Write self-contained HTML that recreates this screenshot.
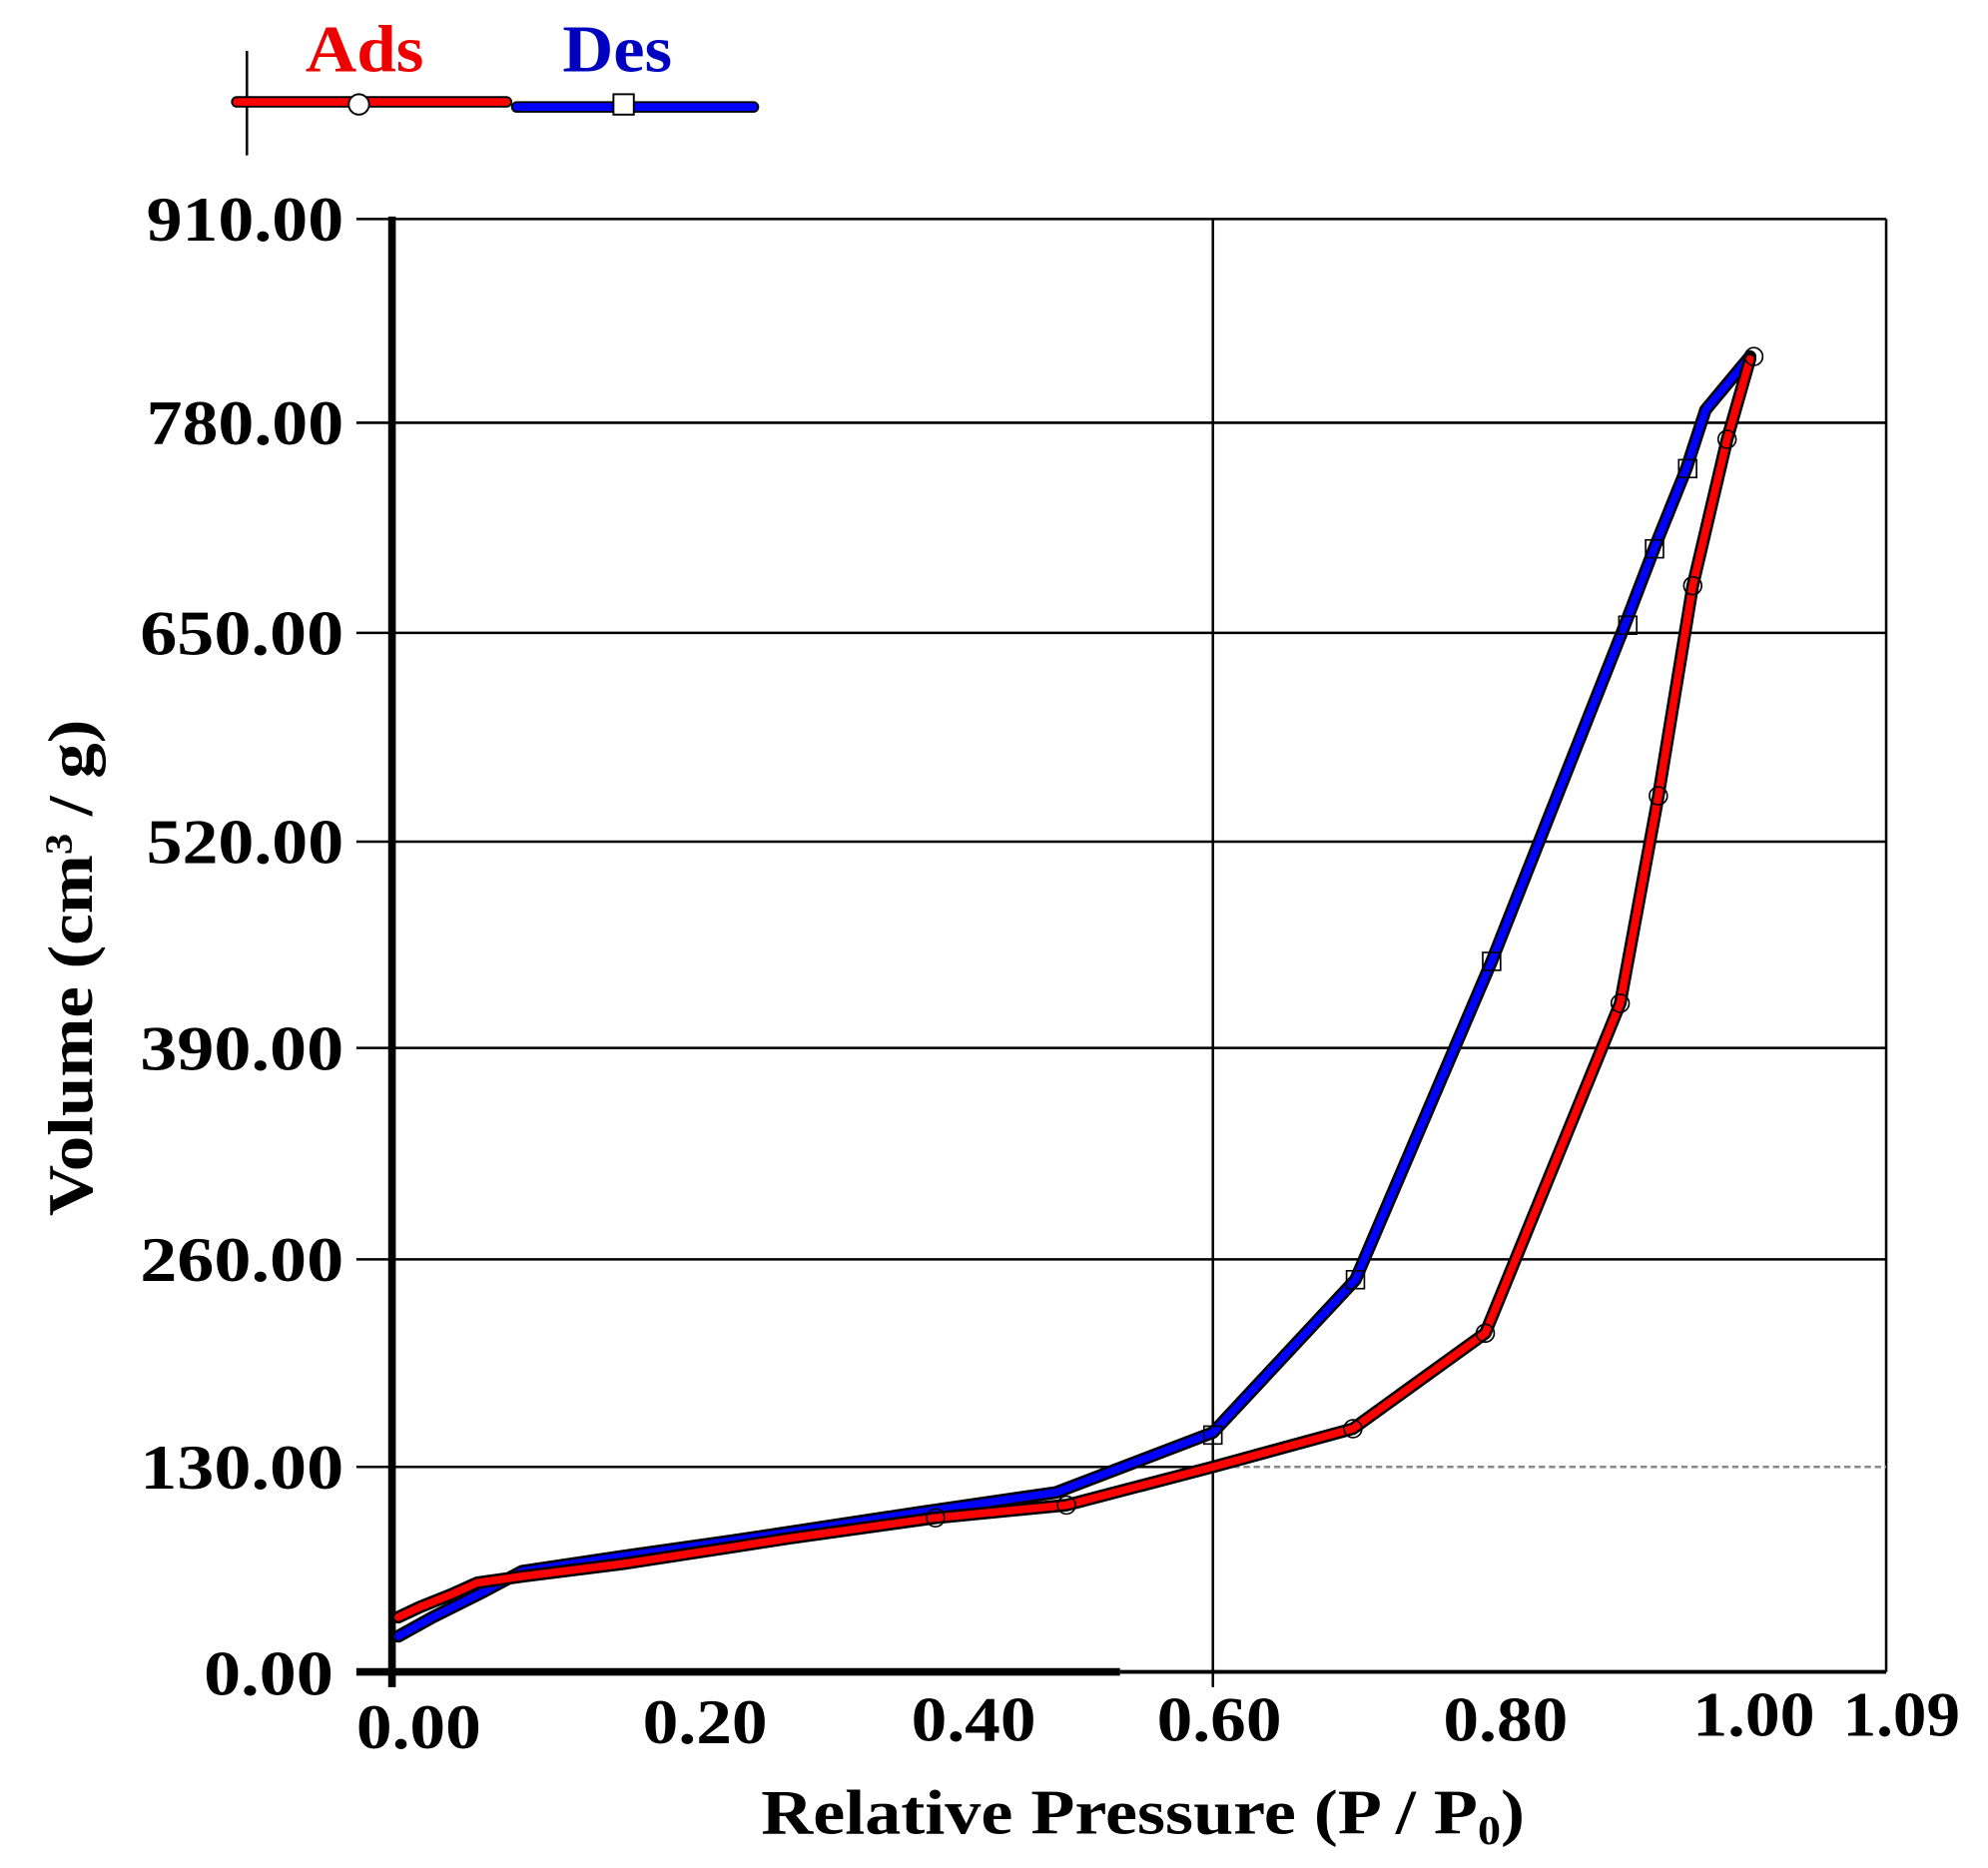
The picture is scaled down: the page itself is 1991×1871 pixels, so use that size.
<!DOCTYPE html>
<html><head><meta charset="utf-8"><style>
html,body{margin:0;padding:0;background:#fff;}
svg{display:block;}
text{font-family:"Liberation Serif",serif;font-weight:bold;fill:#000;}
</style></head><body>
<svg width="1991" height="1871" viewBox="0 0 1562 1467" preserveAspectRatio="none" xmlns="http://www.w3.org/2000/svg">
<!-- legend -->
<line x1="194" y1="40" x2="194" y2="122" stroke="#000" stroke-width="2"/>
<line x1="186" y1="80" x2="398" y2="80" stroke="#000" stroke-width="9" stroke-linecap="round"/>
<line x1="186" y1="80" x2="398" y2="80" stroke="#f00" stroke-width="6" stroke-linecap="round"/>
<circle cx="282" cy="82" r="8" fill="#fff" stroke="#000" stroke-width="1.5"/>
<line x1="406" y1="84" x2="592" y2="84" stroke="#000" stroke-width="9" stroke-linecap="round"/>
<line x1="406" y1="84" x2="592" y2="84" stroke="#00f" stroke-width="6" stroke-linecap="round"/>
<rect x="482" y="74" width="16" height="16" fill="#fff" stroke="#000" stroke-width="1.5"/>
<text x="240" y="56" font-size="52" textLength="93" lengthAdjust="spacingAndGlyphs" style="fill:#e00">Ads</text>
<text x="442" y="56" font-size="52" textLength="86" lengthAdjust="spacingAndGlyphs" style="fill:#0000c0">Des</text>
<!-- grid -->
<g stroke="#000" stroke-width="2">
<line x1="280" y1="172" x2="1482" y2="172"/>
<line x1="280" y1="332" x2="1482" y2="332"/>
<line x1="280" y1="497" x2="1482" y2="497"/>
<line x1="280" y1="661" x2="1482" y2="661"/>
<line x1="280" y1="823" x2="1482" y2="823"/>
<line x1="280" y1="989" x2="1482" y2="989"/>
<line x1="280" y1="1152" x2="953" y2="1152"/>
<line x1="1482" y1="172" x2="1482" y2="1313"/>
<line x1="953" y1="172" x2="953" y2="1325"/>
<line x1="880" y1="1313" x2="1482" y2="1313" stroke-width="3"/>
</g>
<line x1="953" y1="1152" x2="1482" y2="1152" stroke="#888" stroke-width="2" stroke-dasharray="5,3"/>
<line x1="280" y1="1313" x2="880" y2="1313" stroke="#000" stroke-width="6"/>
<line x1="308" y1="170" x2="308" y2="1325" stroke="#000" stroke-width="6"/>
<!-- y labels -->
<g font-size="50" lengthAdjust="spacingAndGlyphs">
<text x="115" y="189" textLength="155" lengthAdjust="spacingAndGlyphs">910.00</text>
<text x="115" y="349" textLength="155" lengthAdjust="spacingAndGlyphs">780.00</text>
<text x="110" y="514" textLength="160" lengthAdjust="spacingAndGlyphs">650.00</text>
<text x="115" y="678" textLength="155" lengthAdjust="spacingAndGlyphs">520.00</text>
<text x="110" y="840" textLength="160" lengthAdjust="spacingAndGlyphs">390.00</text>
<text x="110" y="1006" textLength="160" lengthAdjust="spacingAndGlyphs">260.00</text>
<text x="110" y="1169" textLength="160" lengthAdjust="spacingAndGlyphs">130.00</text>
<text x="160" y="1331" textLength="102" lengthAdjust="spacingAndGlyphs">0.00</text>
</g>
<g font-size="50">
<text x="280" y="1373" textLength="98" lengthAdjust="spacingAndGlyphs">0.00</text>
<text x="505" y="1369" textLength="98" lengthAdjust="spacingAndGlyphs">0.20</text>
<text x="716" y="1367" textLength="98" lengthAdjust="spacingAndGlyphs">0.40</text>
<text x="909" y="1367" textLength="98" lengthAdjust="spacingAndGlyphs">0.60</text>
<text x="1134" y="1367" textLength="98" lengthAdjust="spacingAndGlyphs">0.80</text>
<text x="1330" y="1363" textLength="96" lengthAdjust="spacingAndGlyphs">1.00</text>
<text x="1448" y="1363" textLength="92" lengthAdjust="spacingAndGlyphs">1.09</text>
</g>
<text x="598" y="1440" font-size="50" textLength="600" lengthAdjust="spacingAndGlyphs">Relative Pressure (P / P<tspan font-size="32" dy="8">0</tspan><tspan dy="-8">)</tspan></text>
<text transform="translate(72,955) rotate(-90)" font-size="50" textLength="390" lengthAdjust="spacingAndGlyphs">Volume (cm<tspan font-size="30" dy="-16">3</tspan><tspan dy="16"> / g)</tspan></text>
<!-- series -->
<g fill="none" stroke-linejoin="round" stroke-linecap="round">
<polyline stroke="#000" stroke-width="10" points="313,1285 340,1270 380,1250 410,1234 490,1222 575,1210 720,1188 830,1172 953,1125 1065,1005 1172,755 1277,490 1300,430 1325,368 1340,322 1375,280"/>
<polyline stroke="#00f" stroke-width="6" points="313,1285 340,1270 380,1250 410,1234 490,1222 575,1210 720,1188 830,1172 953,1125 1065,1005 1172,755 1277,490 1300,430 1325,368 1340,322 1375,280"/>
<polyline stroke="#000" stroke-width="10" points="313,1270 330,1262 355,1252 375,1243 410,1238 490,1228 575,1215 620,1208 735,1192 838,1182 953,1152 1063,1122 1167,1047 1273,788 1303,625 1330,460 1357,345 1375,282"/>
<polyline stroke="#f00" stroke-width="6" points="313,1270 330,1262 355,1252 375,1243 410,1238 490,1228 575,1215 620,1208 735,1192 838,1182 953,1152 1063,1122 1167,1047 1273,788 1303,625 1330,460 1357,345 1375,282"/>
</g>
<g fill="none" stroke="#000" stroke-width="1.3">
<circle cx="1063" cy="1122" r="7"/><circle cx="1167" cy="1047" r="7"/><circle cx="1273" cy="788" r="7"/><circle cx="1303" cy="625" r="7"/><circle cx="1330" cy="460" r="7"/><circle cx="1357" cy="345" r="7"/><circle cx="1378" cy="280" r="7"/><circle cx="838" cy="1182" r="7"/><circle cx="735" cy="1192" r="7"/>
<rect x="1058" y="998" width="14" height="14"/><rect x="1165" y="748" width="14" height="14"/><rect x="1272" y="484" width="14" height="14"/><rect x="1293" y="424" width="14" height="14"/><rect x="1319" y="361" width="14" height="14"/><rect x="946" y="1120" width="14" height="14"/>
</g>
</svg>
</body></html>
